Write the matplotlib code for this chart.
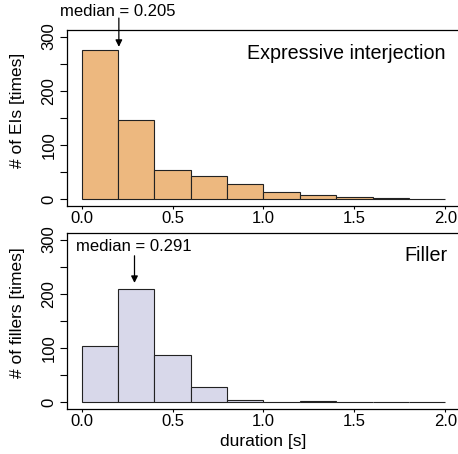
import numpy as np
import matplotlib.pyplot as plt

plt.rcParams['font.family'] = ['Liberation Sans', 'DejaVu Sans']
plt.rcParams['font.size'] = 12

# histogram bins (duration in seconds) and counts
bin_edges = [0.0, 0.2, 0.4, 0.6, 0.8, 1.0, 1.2, 1.4, 1.6, 1.8, 2.0]
ei_counts = [275, 147, 54, 43, 29, 14, 7, 4, 2, 1]
filler_counts = [103, 209, 87, 29, 5, 0, 2, 0, 1, 1]

ei_median = 0.205
filler_median = 0.291

xticks = [0.0, 0.5, 1.0, 1.5, 2.0]
yticks = [0, 100, 200, 300]

fig = plt.figure(figsize=(4.58, 4.54), dpi=100)
ax1 = fig.add_axes([0.1463, 0.5467, 0.858, 0.3872])
ax2 = fig.add_axes([0.1463, 0.0996, 0.858, 0.3872])


def draw_hist(ax, counts, color, ylabel):
    left = np.array(bin_edges[:-1])
    width = np.diff(bin_edges)
    ax.bar(left, counts, width=width, align='edge', color=color,
           edgecolor='#222222', linewidth=0.8)
    ax.set_xlim(-0.08, 2.08)
    ax.set_ylim(-12, 312)
    ax.set_xticks(xticks)
    ax.set_xticklabels(['%.1f' % t for t in xticks])
    ax.set_yticks(yticks)
    ax.set_yticks([50, 150, 250], minor=True)
    ax.set_yticklabels([str(t) for t in yticks], rotation=90, va='center')
    ax.tick_params(axis='y', which='both', length=4.7, width=0.8,
                   pad=3, labelsize=12)
    ax.tick_params(axis='x', length=2.5, width=0.8, pad=1, labelsize=12)
    ax.set_ylabel(ylabel, fontsize=12.5)
    ax.yaxis.set_label_coords(-0.108, 0.545)
    for s in ax.spines.values():
        s.set_linewidth(0.9)


draw_hist(ax1, ei_counts, '#EDB87F', '# of EIs [times]')
draw_hist(ax2, filler_counts, '#D8D8EA', '# of fillers [times]')

ax1.text(2.0, 268, 'Expressive interjection', ha='right', va='center',
         fontsize=14.2)
ax2.text(2.01, 270, 'Filler', ha='right', va='center', fontsize=14.2)

# median arrows
ax1.annotate('', xy=(ei_median, 281), xytext=(ei_median, 334),
             arrowprops=dict(arrowstyle='-|>', color='black', lw=0.9,
                             mutation_scale=10, shrinkA=0, shrinkB=0),
             annotation_clip=False)
ax1.text(-0.116, 347, 'median = %.3f' % ei_median,
         ha='left', va='center', fontsize=12, clip_on=False)

ax2.annotate('', xy=(filler_median, 220), xytext=(filler_median, 270),
             arrowprops=dict(arrowstyle='-|>', color='black', lw=0.9,
                             mutation_scale=10, shrinkA=0, shrinkB=0))
ax2.text(-0.029, 288, 'median = %.3f' % filler_median,
         ha='left', va='center', fontsize=12)

ax2.set_xlabel('duration [s]', fontsize=12.5, labelpad=4)

fig.savefig('out.png', dpi=100)
